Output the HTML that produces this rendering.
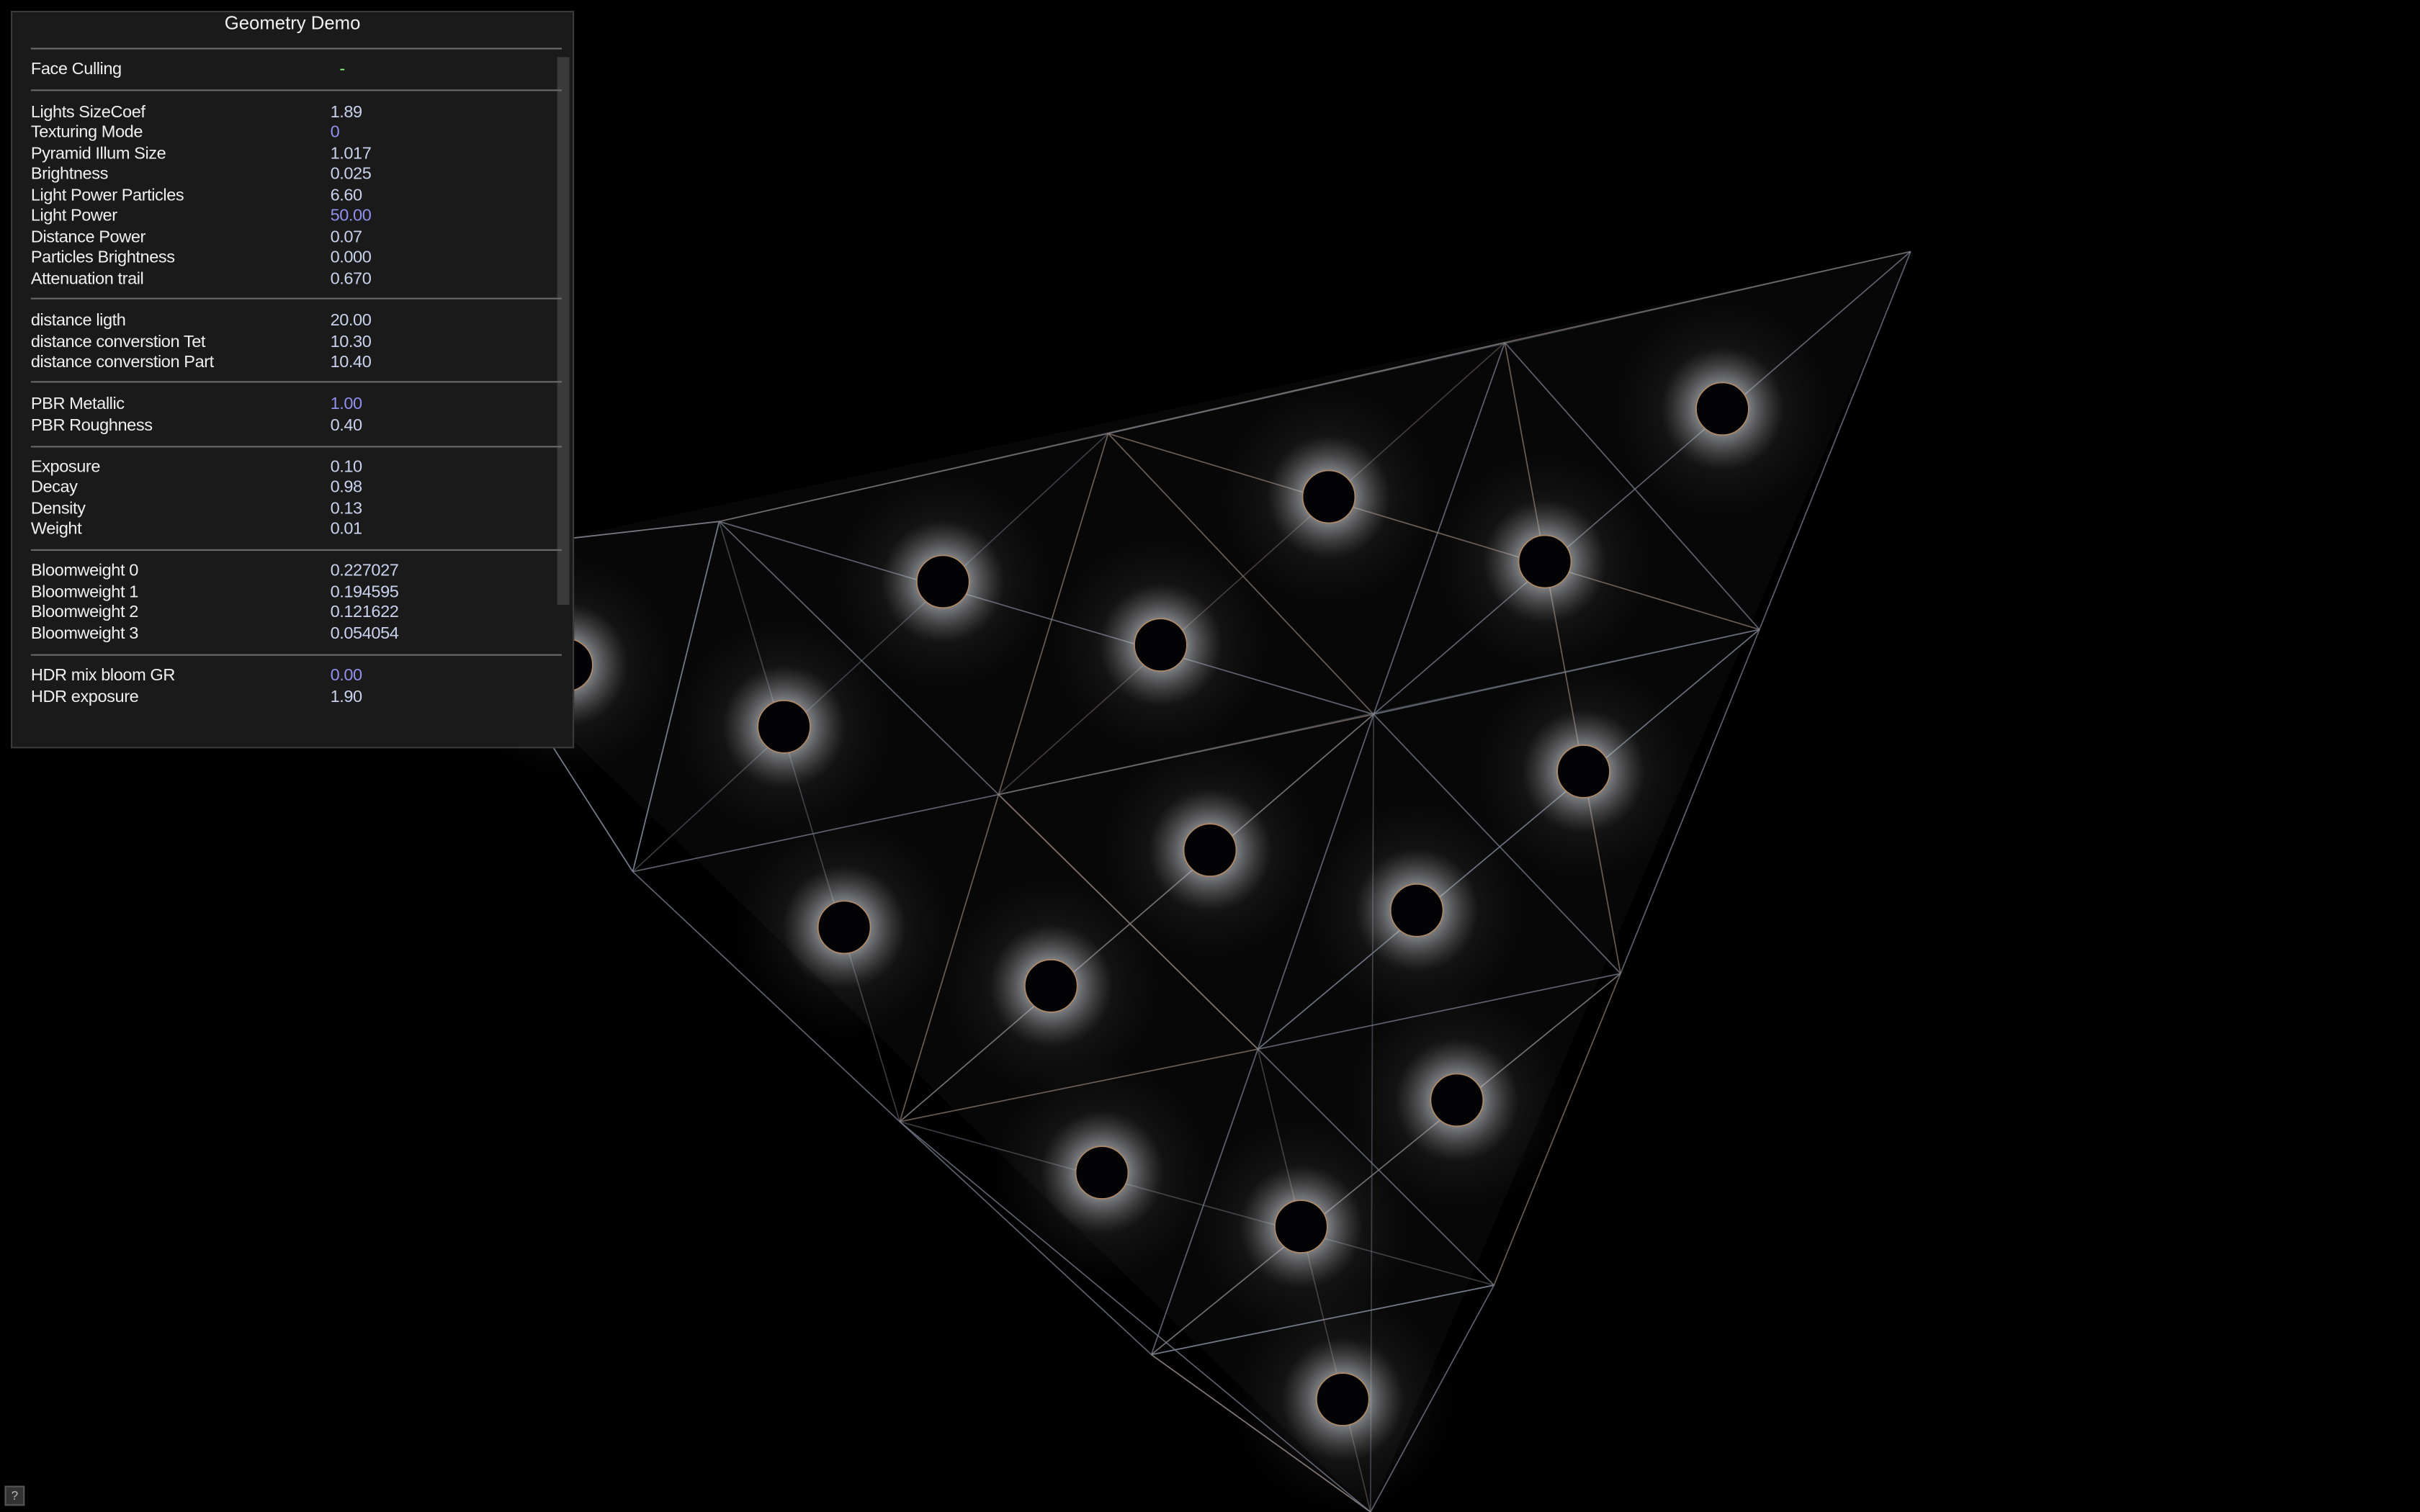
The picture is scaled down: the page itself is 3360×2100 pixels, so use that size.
<!DOCTYPE html>
<html><head><meta charset="utf-8"><style>
html,body{margin:0;padding:0;background:#000;width:3360px;height:2100px;overflow:hidden}
#wrap{position:absolute;left:0;top:0;width:1568px;height:980px;transform:scale(2.142857);transform-origin:0 0}
#scene{position:absolute;left:0;top:0}
#panel{position:absolute;left:7px;top:7px;width:363px;height:476px;background:#1a1a1a;border:1px solid #3a3a3a;font-family:"Liberation Sans",sans-serif;font-size:11px;color:#f0f0f0}
.title{position:absolute;left:0;width:363px;top:0;text-align:center;font-size:12px;line-height:15px}
.sep{position:absolute;left:12px;width:344px;height:1px;background:#6a6a6a}
.row{position:absolute;left:12px;width:340px;height:13px;line-height:13px;letter-spacing:-0.2px}
.row .v{position:absolute;left:194px;color:#c8d2ee}
.row .v.p{color:#9090ee}
#scroll{position:absolute;left:353px;top:29px;width:8px;height:355px;background:#3a3a3a}
#help{position:absolute;left:3px;top:963px;width:11px;height:11px;background:#333;border:1px solid #555;color:#bbb;font:8px "Liberation Sans",sans-serif;text-align:center;line-height:11px}
</style></head><body>
<div id="wrap">
<svg id="scene" width="1568" height="980" viewBox="0 0 1568 980">
<defs>
<radialGradient id="glow"><stop offset="0" stop-color="#fff" stop-opacity="1"/><stop offset="0.35" stop-color="#e4e8f0" stop-opacity="0.55"/><stop offset="1" stop-color="#888" stop-opacity="0"/></radialGradient>
<radialGradient id="haze"><stop offset="0" stop-color="#666" stop-opacity="0.45"/><stop offset="1" stop-color="#222" stop-opacity="0"/></radialGradient>
</defs>
<polygon points="1238,163 360,350 330,440 888,980" fill="#070707"/>
<g id="haze-layer"></g>
<g id="edges"></g>
<g id="lights"></g>
</svg>
<div id="panel">
<div class="title" style="top:0">Geometry Demo</div>
<div id="scroll"></div>
</div>
<div id="help">?</div>
</div>
<script>
const nodeX=[1238,975,718,466,360,1140,890,647,410,1050,815,583,968,746,888,330];
const nodeY=[163,222,281,338,350,408,463,515,565,631,680,727,833,878,980,440];
const edgeA=[0,1,2,3,0,5,9,12,1,2,3,5,6,7,9,10,12,1,2,3,6,7,10,6,7,10,13,2,3,0,1,5,6,9,3,8,7,11,13,14,8,11,4,15,4,1,2,5,6,9,0,1,3,6,10,5,12];
const edgeB=[1,2,3,4,5,9,12,14,5,6,7,6,7,8,10,11,13,6,7,8,9,10,12,10,11,13,14,5,6,6,9,10,11,13,8,11,10,13,12,13,15,14,15,8,3,7,8,10,11,13,2,3,11,14,14,7,11];
const lightX=[1116,861,1001,611,752,367,508,1026,784,918,547,681,944,714,843,870];
const lightY=[265,322,364,377,418,431,471,500,551,590,601,639,713,760,795,907];
const rows=[["Face Culling","-",0,38],["Lights SizeCoef","1.89",0,66],["Texturing Mode","0",1,79],["Pyramid Illum Size","1.017",0,93],["Brightness","0.025",0,106],["Light Power Particles","6.60",0,120],["Light Power","50.00",1,133],["Distance Power","0.07",0,147],["Particles Brightness","0.000",0,160],["Attenuation trail","0.670",0,174],["distance ligth","20.00",0,201],["distance converstion Tet","10.30",0,215],["distance converstion Part","10.40",0,228],["PBR Metallic","1.00",1,255],["PBR Roughness","0.40",0,269],["Exposure","0.10",0,296],["Decay","0.98",0,309],["Density","0.13",0,323],["Weight","0.01",0,336],["Bloomweight 0","0.227027",0,363],["Bloomweight 1","0.194595",0,377],["Bloomweight 2","0.121622",0,390],["Bloomweight 3","0.054054",0,404],["HDR mix bloom GR","0.00",1,431],["HDR exposure","1.90",0,445]];
const seps=[23,50,185,239,281,348,416];
const NS="http://www.w3.org/2000/svg";
const hz=document.getElementById('haze-layer'),eg=document.getElementById('edges'),lg=document.getElementById('lights');
for(let i=0;i<edgeA.length;i++){
 const l=document.createElementNS(NS,'line');
 
 
 l.setAttribute('x1',nodeX[edgeA[i]]);l.setAttribute('y1',nodeY[edgeA[i]]);
 l.setAttribute('x2',nodeX[edgeB[i]]);l.setAttribute('y2',nodeY[edgeB[i]]);
 l.setAttribute('stroke',i%3==0?'#8a7a70':'#7a8090');l.setAttribute('stroke-width','0.8');l.setAttribute('stroke-opacity',i>44?'0.45':'0.75');
 eg.appendChild(l);
}
for(let i=0;i<lightX.length;i++){
 const h=document.createElementNS(NS,'circle');
 
 
 h.setAttribute('cx',lightX[i]);h.setAttribute('cy',lightY[i]);h.setAttribute('r',75);h.setAttribute('fill','url(#haze)');
 hz.appendChild(h);
 const g=document.createElementNS(NS,'circle');
 
 
 g.setAttribute('cx',lightX[i]);g.setAttribute('cy',lightY[i]);g.setAttribute('r',40);g.setAttribute('fill','url(#glow)');
 lg.appendChild(g);
 const c=document.createElementNS(NS,'circle');
 
 
 c.setAttribute('cx',lightX[i]);c.setAttribute('cy',lightY[i]);c.setAttribute('r',17);c.setAttribute('fill','#030306');c.setAttribute('stroke','#b08a66');c.setAttribute('stroke-width','0.8');
 lg.appendChild(c);
}
const p=document.getElementById('panel');
for(const s of seps){const d=document.createElement('div');d.className='sep';d.style.top=s+'px';
 
 
 p.appendChild(d);}
for(const r of rows){
 const d=document.createElement('div');d.className='row';d.style.top=(r[3]-7)+'px';
 
 
 const v=document.createElement('span');v.className='v'+(r[2]?' p':'');v.textContent=r[1];
 if(r[1]==='-'){v.style.color='#8f8';v.style.left='200px';}
 d.appendChild(document.createTextNode(r[0]));d.appendChild(v);p.appendChild(d);
}
</script>
</body></html>
